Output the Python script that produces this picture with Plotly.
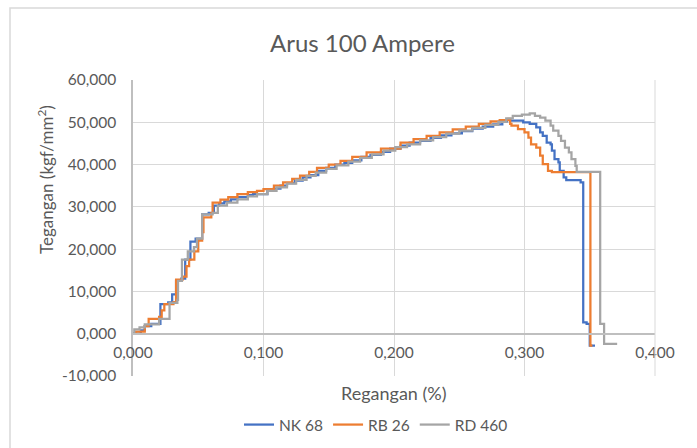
import plotly.graph_objects as go

# ---- data (strain %, stress kgf/mm2) ----
nk68_x = [0, 0.006, 0.009, 0.014, 0.021, 0.027, 0.030, 0.033, 0.037, 0.040, 0.044, 0.048,
          0.053, 0.058, 0.062, 0.066, 0.070, 0.075, 0.080, 0.088, 0.092, 0.103, 0.108, 0.113,
          0.118, 0.124, 0.130, 0.136, 0.142, 0.148, 0.155, 0.162, 0.168, 0.175, 0.182, 0.190,
          0.197, 0.205, 0.212, 0.220, 0.228, 0.236, 0.244, 0.252, 0.260, 0.268, 0.276, 0.283,
          0.2866, 0.289, 0.299, 0.304, 0.309, 0.312, 0.314, 0.317, 0.320, 0.321, 0.323, 0.326,
          0.327, 0.330, 0.332, 0.343, 0.345, 0.3476, 0.350, 0.354]
nk68_y = [0, 0.8, 1.8, 2.3, 7.0, 7.4, 9.3, 12.5, 13.0, 17.5, 21.8, 22.5,
          28.2, 28.6, 30.3, 30.8, 31.3, 31.8, 32.3, 32.8, 33.0, 34.0, 34.3, 35.0,
          35.6, 36.2, 37.0, 37.5, 38.5, 39.2, 40.0, 40.4, 41.0, 41.8, 42.3, 43.0,
          43.8, 44.5, 45.2, 45.6, 46.3, 46.9, 47.4, 47.9, 48.5, 49.0, 49.5, 50.2,
          50.6, 50.4, 50.0, 49.6, 48.8, 47.6, 46.8, 45.2, 44.8, 43.3, 41.3, 40.5,
          38.5, 37.0, 36.3, 35.8, 2.7, 2.3, -2.8, -2.8]

rb26_x = [0, 0.002, 0.009, 0.012, 0.020, 0.022, 0.024, 0.031, 0.033, 0.038, 0.041, 0.043,
          0.047, 0.050, 0.053, 0.054, 0.060, 0.061, 0.067, 0.073, 0.080, 0.088, 0.095, 0.100,
          0.108, 0.115, 0.122, 0.128, 0.135, 0.141, 0.150, 0.159, 0.168, 0.179, 0.190, 0.205,
          0.215, 0.225, 0.235, 0.245, 0.255, 0.265, 0.274, 0.281, 0.2876, 0.289, 0.290, 0.295,
          0.300, 0.303, 0.305, 0.309, 0.312, 0.314, 0.318, 0.321, 0.3505, 0.352]
rb26_y = [0, 0.5, 1.8, 3.5, 4.0, 5.5, 7.0, 7.5, 12.8, 13.5, 16.0, 17.5,
          19.5, 22.0, 24.0, 27.5, 28.5, 31.0, 31.7, 32.3, 33.0, 33.5, 33.8, 34.2,
          35.0, 35.8, 36.6, 37.4, 38.3, 39.2, 40.0, 40.9, 41.8, 42.9, 43.8, 45.2,
          46.0, 46.8, 47.6, 48.3, 49.0, 49.6, 50.2, 50.5, 50.8, 49.6, 49.2, 48.4,
          47.6, 46.4, 44.8, 44.0, 42.1, 40.1, 38.5, 38.2, -2.8, -2.8]

rd460_x = [0, 0.001, 0.005, 0.009, 0.020, 0.028, 0.034, 0.0345, 0.0375, 0.042, 0.0467, 0.049,
           0.053, 0.061, 0.065, 0.072, 0.080, 0.088, 0.095, 0.103, 0.110, 0.118, 0.125, 0.133,
           0.140, 0.148, 0.156, 0.165, 0.174, 0.183, 0.192, 0.201, 0.210, 0.220, 0.230, 0.240,
           0.250, 0.260, 0.270, 0.280, 0.286, 0.291, 0.298, 0.304, 0.308, 0.312, 0.316, 0.320,
           0.322, 0.326, 0.328, 0.331, 0.334, 0.336, 0.339, 0.340, 0.358, 0.361, 0.371]
rd460_y = [0, 1.0, 1.5, 2.2, 3.5, 7.3, 8.0, 12.5, 17.5, 19.5, 20.5, 22.5,
           28.2, 28.6, 30.3, 31.0, 31.8, 32.5, 33.0, 33.8, 34.6, 35.5, 36.4, 37.3,
           38.1, 39.0, 39.8, 40.7, 41.6, 42.4, 43.3, 44.1, 44.8, 45.7, 46.5, 47.3,
           48.0, 48.7, 49.4, 50.1, 50.9, 51.5, 51.8, 52.1, 51.5, 51.1, 50.4, 49.2,
           48.0, 46.8, 45.6, 44.0, 42.9, 41.3, 39.7, 38.3, 2.3, -2.4, -2.4]

series_names = ["NK 68", "RB 26", "RD 460"]
series_colors = ["#4472C4", "#ED7D31", "#A5A5A5"]

x_ticks = [0, 0.1, 0.2, 0.3, 0.4]
x_tick_labels = ["0,000", "0,100", "0,200", "0,300", "0,400"]
y_ticks = [-10, 0, 10, 20, 30, 40, 50, 60]
y_tick_labels = ["-10,000", "0,000", "10,000", "20,000", "30,000", "40,000", "50,000", "60,000"]

FONT = "Lato"
TXT = "#595959"

fig = go.Figure()
for name, color, xs, ys in zip(series_names, series_colors,
                               [nk68_x, rb26_x, rd460_x], [nk68_y, rb26_y, rd460_y]):
    fig.add_trace(go.Scatter(x=xs, y=ys, mode="lines", name=name,
                             line=dict(color=color, width=2.25, shape="hv")))

W, H = 697, 448
L, R, T, B = 133, 42, 80, 72
pw, ph = W - L - R, H - T - B

def px(xp):
    return (xp - L) / pw

def py(yp):
    return (H - B - yp) / ph

fig.update_layout(
    width=W, height=H,
    margin=dict(l=L, r=R, t=T, b=B, pad=0, autoexpand=False),
    paper_bgcolor="white", plot_bgcolor="white",
    font=dict(family=FONT, color=TXT, size=14),
    showlegend=True,
    legend=dict(orientation="h", x=px(376), y=py(425), xanchor="center", yanchor="middle",
                font=dict(size=15.5, color=TXT), bgcolor="rgba(0,0,0,0)"),
    xaxis=dict(range=[0, 0.4], tickvals=x_ticks, ticktext=x_tick_labels, showgrid=True,
               gridcolor="#D9D9D9", gridwidth=1, zeroline=False,
               showline=True, linecolor="#BFBFBF", linewidth=1.5,
               anchor="free", position=1/7, ticks="", ticklabelstandoff=5,
               automargin=False,
               tickfont=dict(size=15.5, color=TXT, family=FONT)),
    yaxis=dict(range=[-10, 60], tickvals=y_ticks, ticktext=y_tick_labels, showgrid=True,
               gridcolor="#D9D9D9", gridwidth=1, zeroline=False,
               showline=True, linecolor="#BFBFBF", linewidth=1.5,
               ticks="", ticklabelstandoff=12, automargin=False,
               tickfont=dict(size=15.5, color=TXT, family=FONT)),
    shapes=[dict(type="line", xref="paper", yref="paper", x0=1, x1=1, y0=0, y1=1,
                 line=dict(color="#D9D9D9", width=1)),
            dict(type="rect", xref="paper", yref="paper", x0=px(10), x1=px(720),
                 y0=py(470), y1=py(8), line=dict(color="#D9D9D9", width=1.5), layer="above")],
    annotations=[
        dict(text="Arus 100 Ampere", x=px(362), y=py(42), xref="paper", yref="paper",
             showarrow=False, xanchor="center", yanchor="middle",
             font=dict(size=24, color=TXT, family=FONT)),
        dict(text="Regangan (%)", x=px(394), y=py(393), xref="paper", yref="paper",
             showarrow=False, xanchor="center", yanchor="middle",
             font=dict(size=18, color=TXT, family=FONT)),
        dict(text="Tegangan (kgf/mm<sup>2</sup>)", x=px(45), y=py(180), xref="paper",
             yref="paper", showarrow=False, xanchor="center", yanchor="middle",
             textangle=-90, font=dict(size=17, color=TXT, family=FONT)),
    ],
)

fig.write_html("out.html", config={"displayModeBar": False},
               post_script="document.body.style.margin='0';document.body.style.overflow='hidden';")
